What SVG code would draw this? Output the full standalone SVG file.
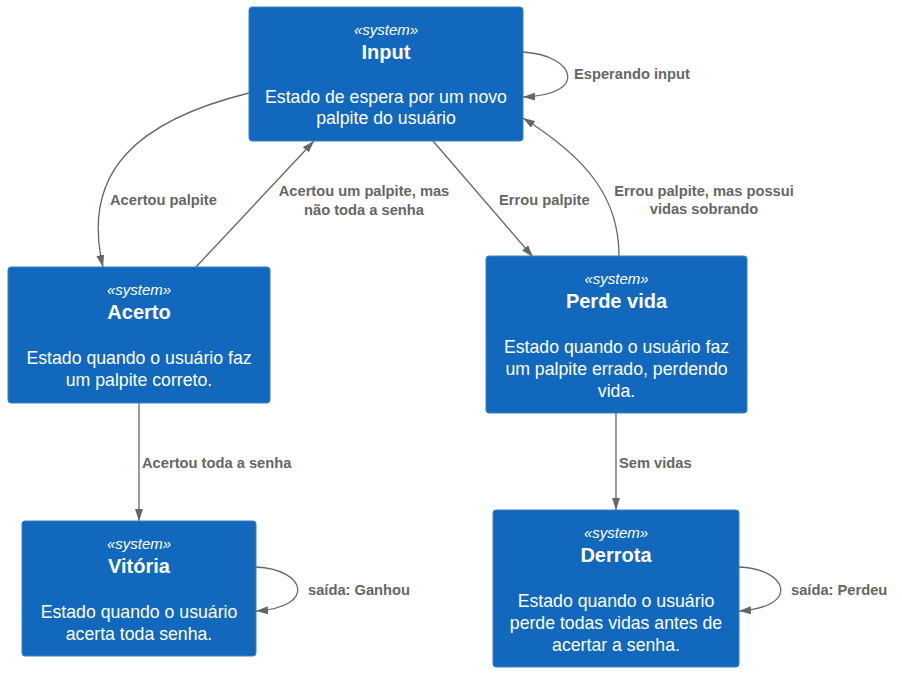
<svg xmlns="http://www.w3.org/2000/svg" width="902" height="673" viewBox="0 0 902 673">
<style>
.box{fill:#1168BD;stroke:#3C7FC0;stroke-width:1}
.type{font-family:"Liberation Sans",Arial,sans-serif;font-size:15px;font-style:italic;fill:#ffffff;text-anchor:middle}
.title{font-family:"Liberation Sans",Arial,sans-serif;font-size:20px;font-weight:bold;fill:#ffffff;text-anchor:middle}
.desc{font-family:"Liberation Sans",Arial,sans-serif;font-size:17.7px;fill:#ffffff;text-anchor:middle}
.edge{fill:none;stroke:#666666;stroke-width:1.3}
.lbl{font-family:"Liberation Sans",Arial,sans-serif;font-size:14.7px;font-weight:bold;fill:#666666}
.lblc{font-family:"Liberation Sans",Arial,sans-serif;font-size:14.7px;font-weight:bold;fill:#666666;text-anchor:middle}
</style>
<defs>
<marker id="arrow" markerUnits="userSpaceOnUse" markerWidth="12" markerHeight="8" viewBox="0 0 12 8" refX="12" refY="4" orient="auto">
<path d="M0,0 L12,4 L0,8 z" fill="#666666"/>
</marker>
</defs>
<rect width="902" height="673" fill="#ffffff"/>

<g id="connectors">
<path class="edge" marker-end="url(#arrow)" d="M523,52 C575,55 590,95 523,97"/>
<text class="lbl" x="574" y="79">Esperando input</text>

<path class="edge" marker-end="url(#arrow)" d="M249,93 C140,120 80,170 103,267"/>
<text class="lbl" x="110" y="205">Acertou palpite</text>

<path class="edge" marker-end="url(#arrow)" d="M196,267 L314,141"/>
<text class="lblc" x="364" y="196">Acertou um palpite, mas</text>
<text class="lblc" x="364" y="215">não toda a senha</text>

<path class="edge" marker-end="url(#arrow)" d="M433,141 L533,257"/>
<text class="lbl" x="499" y="205">Errou palpite</text>

<path class="edge" marker-end="url(#arrow)" d="M619,256 C619,200 590,160 523,118"/>
<text class="lblc" x="704" y="196">Errou palpite, mas possui</text>
<text class="lblc" x="704" y="214">vidas sobrando</text>

<path class="edge" marker-end="url(#arrow)" d="M139,403 L139,521"/>
<text class="lbl" x="142" y="468">Acertou toda a senha</text>

<path class="edge" marker-end="url(#arrow)" d="M256,567 C305,569 318,607 256,611"/>
<text class="lbl" x="308" y="595">saída: Ganhou</text>

<path class="edge" marker-end="url(#arrow)" d="M616,413 L616,510"/>
<text class="lbl" x="619" y="468">Sem vidas</text>

<path class="edge" marker-end="url(#arrow)" d="M739,567 C788,569 801,607 739,611"/>
<text class="lbl" x="791" y="595">saída: Perdeu</text>
</g>

<g id="input">
<rect class="box" x="249" y="7" width="274" height="134" rx="3"/>
<text class="type" x="386" y="35">«system»</text>
<text class="title" x="386" y="59">Input</text>
<text class="desc" x="386" y="103">Estado de espera por um novo</text>
<text class="desc" x="386" y="124">palpite do usuário</text>
</g>

<g id="acerto">
<rect class="box" x="8" y="267" width="262" height="136" rx="3"/>
<text class="type" x="139" y="295">«system»</text>
<text class="title" x="139" y="319">Acerto</text>
<text class="desc" x="139" y="364">Estado quando o usuário faz</text>
<text class="desc" x="139" y="386">um palpite correto.</text>
</g>

<g id="perde-vida">
<rect class="box" x="486" y="256" width="261" height="157" rx="3"/>
<text class="type" x="616.5" y="284">«system»</text>
<text class="title" x="616.5" y="308">Perde vida</text>
<text class="desc" x="616.5" y="353">Estado quando o usuário faz</text>
<text class="desc" x="616.5" y="375">um palpite errado, perdendo </text>
<text class="desc" x="616.5" y="397">vida.</text>
</g>

<g id="vitoria">
<rect class="box" x="22" y="521" width="234" height="135" rx="3"/>
<text class="type" x="139" y="549">«system»</text>
<text class="title" x="139" y="573">Vitória</text>
<text class="desc" x="139" y="618">Estado quando o usuário</text>
<text class="desc" x="139" y="640">acerta toda senha.</text>
</g>

<g id="derrota">
<rect class="box" x="493" y="510" width="246" height="157" rx="3"/>
<text class="type" x="616" y="538">«system»</text>
<text class="title" x="616" y="562">Derrota</text>
<text class="desc" x="616" y="607">Estado quando o usuário</text>
<text class="desc" x="616" y="629">perde todas vidas antes de</text>
<text class="desc" x="616" y="651">acertar a senha.</text>
</g>
</svg>
